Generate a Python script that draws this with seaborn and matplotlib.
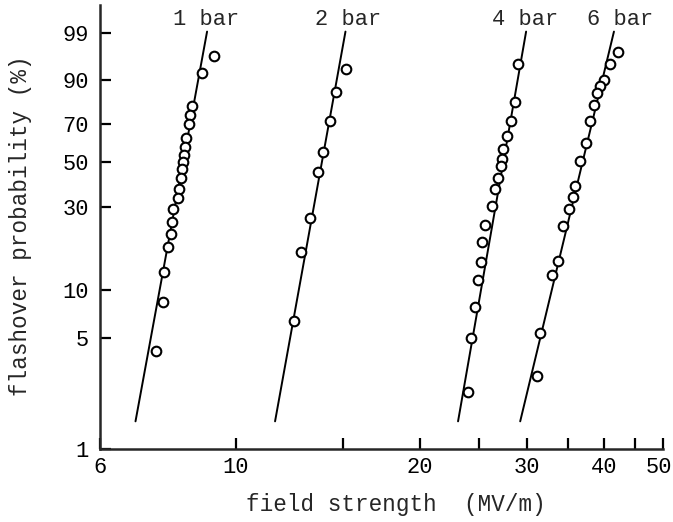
import numpy as np
import pandas as pd
import matplotlib
matplotlib.use("Agg")
import matplotlib.pyplot as plt
import seaborn as sns
from matplotlib.ticker import FixedLocator, NullLocator, FixedFormatter
from matplotlib import transforms

# ---- data (field strength MV/m, cumulative probability %) ----
groups = ["1 bar", "2 bar", "4 bar", "6 bar"]

x_1bar = [9.21, 8.80, 8.48, 8.41, 8.38, 8.29, 8.26, 8.23, 8.19, 8.16,
          8.13, 8.07, 8.04, 7.89, 7.86, 7.84, 7.75, 7.63, 7.60, 7.41]
F_1bar = [96.2, 92.2, 79.1, 74.6, 69.9, 62.3, 57.5, 53.7, 49.6, 46.1,
          42.2, 36.9, 33.5, 29.3, 24.9, 21.3, 18.0, 12.8, 8.4, 4.2]

x_2bar = [15.17, 14.62, 14.29, 13.92, 13.66, 13.21, 12.77, 12.44]
F_2bar = [93.3, 85.4, 71.5, 54.8, 45.1, 26.2, 16.8, 6.4]

x_4bar = [28.96, 28.63, 28.20, 27.78, 27.37, 27.26, 27.16, 26.86, 26.56,
          26.26, 25.58, 25.29, 25.20, 24.92, 24.64, 24.27, 23.99]
F_4bar = [94.6, 81.0, 71.5, 63.4, 56.4, 51.6, 47.6, 41.8, 37.3,
          30.1, 24.0, 19.0, 14.7, 11.4, 7.8, 5.0, 2.3]

x_6bar = [42.14, 40.91, 40.00, 39.40, 38.96, 38.52, 37.94, 37.38, 36.55,
          35.86, 35.60, 35.06, 34.28, 33.65, 32.90, 31.45, 31.10]
F_6bar = [96.9, 94.6, 90.0, 87.8, 85.0, 79.6, 71.5, 59.6, 50.1,
          38.2, 33.9, 29.3, 23.7, 14.9, 12.3, 5.4, 2.9]

# Weibull fit lines: scale (63.2 % value) and shape parameter per group
weibull_scale = [8.35, 14.08, 27.87, 37.8]
weibull_shape = [21.3, 21.65, 22.4, 16.26]
line_F_range = [1.5, 99.1]

label_x = [8.95, 15.3, 29.8, 42.6]

ytick_vals = [1, 5, 10, 30, 50, 70, 90, 99]
ytick_labels = ["1", "5", "10", "30", "50", "70", "90", "99"]
xtick_vals = [6, 10, 15, 20, 25, 30, 35, 40, 45, 50]
xtick_labels = ["6", "10", "", "20", "", "30", "", "40", "", "50"]

# ---- build tables ----
xs = [x_1bar, x_2bar, x_4bar, x_6bar]
Fs = [F_1bar, F_2bar, F_4bar, F_6bar]
pts = pd.concat([pd.DataFrame({"E": x, "F": f, "group": g}) for x, f, g in zip(xs, Fs, groups)],
                ignore_index=True)

line_rows = []
for g, eta, m in zip(groups, weibull_scale, weibull_shape):
    for f in line_F_range:
        e = eta * (-np.log(1 - f / 100.0)) ** (1.0 / m)
        line_rows.append({"E": e, "F": f, "group": g})
lines = pd.DataFrame(line_rows)

# ---- style ----
sns.set_style("ticks")
plt.rcParams["font.family"] = ["Liberation Mono", "DejaVu Sans Mono"]
plt.rcParams["axes.linewidth"] = 1.8

fig = plt.figure(figsize=(6.73, 5.22), dpi=100)
ax = fig.add_axes([0.1486, 0.1398, 0.8364, 0.8506])


def weib_fwd(F):
    F = np.clip(np.asarray(F, dtype=float), 1e-9, 100 - 1e-9)
    return np.log(-np.log(1 - F / 100.0))


def weib_inv(W):
    return 100.0 * (1 - np.exp(-np.exp(np.asarray(W, dtype=float))))


ax.set_xscale("log")
ax.set_yscale("function", functions=(weib_fwd, weib_inv))

sns.lineplot(data=lines, x="E", y="F", units="group", estimator=None,
             color="black", linewidth=1.4, ax=ax, sort=False)
sns.scatterplot(data=pts, x="E", y="F", marker="o", s=48, facecolor="white",
                edgecolor="black", linewidth=1.5, ax=ax, zorder=3)

ax.set_xlim(6, 50)
ax.set_ylim(1, 99.906)

ax.xaxis.set_major_locator(FixedLocator(xtick_vals))
ax.xaxis.set_major_formatter(FixedFormatter(xtick_labels))
ax.xaxis.set_minor_locator(NullLocator())
ax.yaxis.set_major_locator(FixedLocator(ytick_vals))
ax.yaxis.set_major_formatter(FixedFormatter(ytick_labels))
ax.yaxis.set_minor_locator(NullLocator())

ax.tick_params(axis="both", direction="in", length=8, width=1.6, labelsize=15.8,
               colors="black")
ax.tick_params(axis="y", pad=8)
ax.tick_params(axis="x", pad=6)

sns.despine(ax=ax)

ax.set_xlabel("field strength  (MV/m)", fontsize=16.3)
ax.set_ylabel("flashover probability (%)", fontsize=16.3)
ax.xaxis.set_label_coords(0.526, -0.099)
ax.yaxis.set_label_coords(-0.121, 0.503)

trans = transforms.blended_transform_factory(ax.transData, ax.transAxes)
for g, lx in zip(groups, label_x):
    ax.text(lx, 0.968, g, transform=trans, ha="center", va="center", fontsize=15.8)

# keep the last x tick label inside the figure edge
fig.canvas.draw()
last = ax.get_xticklabels()[-1]
last.set_transform(last.get_transform() + transforms.ScaledTranslation(-4 / 100, 0, fig.dpi_scale_trans))

fig.savefig("out.png", dpi=100, facecolor="white")
